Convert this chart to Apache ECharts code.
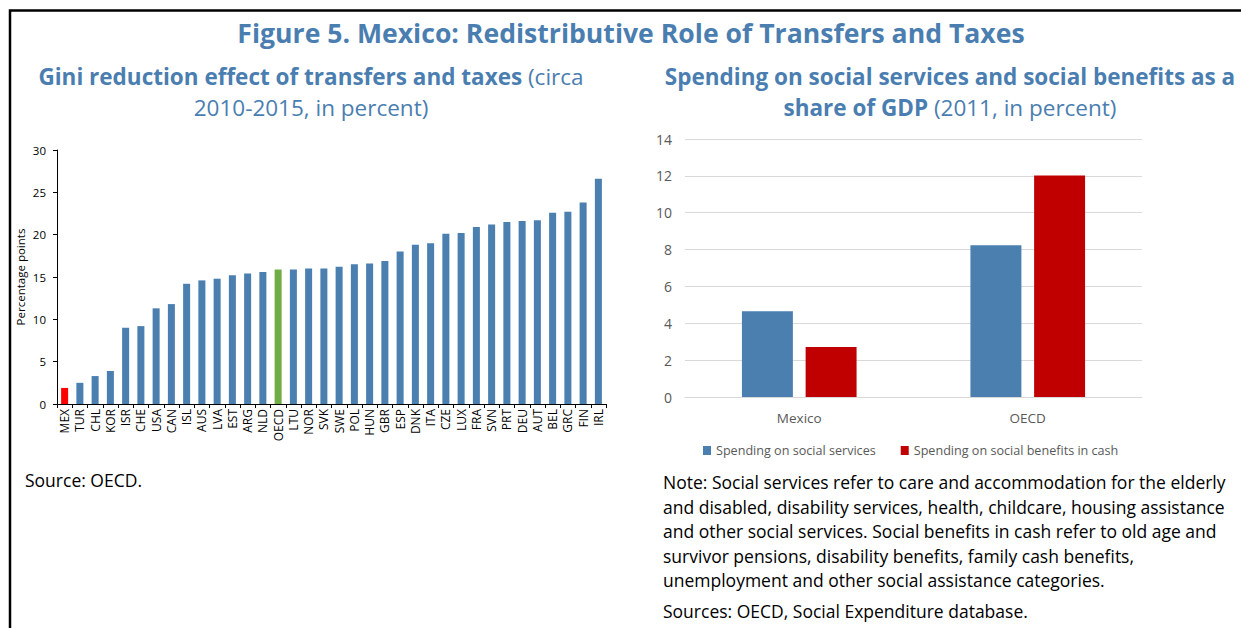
<!DOCTYPE html>
<html>
<head>
<meta charset="utf-8">
<script src="https://cdn.jsdelivr.net/npm/echarts@6/dist/echarts.min.js"></script>
<style>
  html, body { margin: 0; padding: 0; background: #fff; }
  #chart { width: 1241px; height: 628px; }
</style>
</head>
<body>
<div id="chart"></div>
<script>
// Left panel: Gini reduction effect of transfers and taxes (percentage points)
const countries = ['MEX','TUR','CHL','KOR','ISR','CHE','USA','CAN','ISL','AUS','LVA','EST','ARG','NLD','OECD','LTU','NOR','SVK','SWE','POL','HUN','GBR','ESP','DNK','ITA','CZE','LUX','FRA','SVN','PRT','DEU','AUT','BEL','GRC','FIN','IRL'];
const giniReduction = [1.9,2.5,3.3,3.9,9.0,9.2,11.3,11.8,14.2,14.6,14.8,15.2,15.4,15.6,15.9,15.9,16.0,16.0,16.2,16.5,16.6,16.9,18.0,18.8,19.0,20.1,20.2,20.9,21.2,21.5,21.6,21.7,22.6,22.7,23.8,26.6];
const giniTicks = [0,5,10,15,20,25,30];

// Right panel: social spending as a share of GDP, 2011
const regions = ['Mexico','OECD'];
const socialServices = [4.65,8.23];
const cashBenefits = [2.71,12.02];
const spendTicks = [0,2,4,6,8,10,12,14];

const FONT = '"Open Sans", "Noto Sans", sans-serif';
const BLUE = '#4a7fb0';
const TITLE = '#4a7eb0';

const highlight = { MEX: '#ff0000', OECD: '#70ad47' };

const chart = echarts.init(document.getElementById('chart'), null, { renderer: 'svg' });

const noteLines = [
  'Note: Social services refer to care and accommodation for the elderly',
  'and disabled, disability services, health, childcare, housing assistance',
  'and other social services. Social benefits in cash refer to old age and',
  'survivor pensions, disability benefits, family cash benefits,',
  'unemployment and other social assistance categories.'
];

const titleRich = {
  b: { fontFamily: FONT, fontWeight: 'bold', fontSize: 22.5, color: TITLE },
  n: { fontFamily: FONT, fontWeight: 'normal', fontSize: 22.5, color: TITLE }
};

chart.setOption({
  animation: false,
  textStyle: { fontFamily: FONT },
  title: [
    { text: 'Figure 5. Mexico: Redistributive Role of Transfers and Taxes', left: 626, top: 14, textAlign: 'center',
      textStyle: { fontFamily: FONT, fontWeight: 'bold', fontSize: 26.6, color: TITLE } },
    { text: '{b|Gini reduction effect of transfers and taxes}{n| (circa}', left: 306, top: 60, textAlign: 'center',
      textStyle: { rich: titleRich } },
    { text: '{n|2010-2015, in percent)}', left: 306, top: 91, textAlign: 'center', textStyle: { rich: titleRich } },
    { text: '{b|Spending on social services and social benefits as a}', left: 945, top: 60, textAlign: 'center',
      textStyle: { rich: titleRich } },
    { text: '{b|share of GDP}{n| (2011, in percent)}', left: 945, top: 91, textAlign: 'center', textStyle: { rich: titleRich } }
  ],
  graphic: [
    { type: 'polyline', shape: { points: [[10, 628], [10, 10.5], [1241, 10.5]] },
      style: { stroke: '#000', lineWidth: 2.5, fill: null } },
    { type: 'text', left: 25, top: 471,
      style: { text: 'Source: OECD.', font: '17.5px ' + FONT, fill: '#000' } },
    { type: 'text', left: 663, top: 470,
      style: { text: noteLines.join('\n'), font: '17.5px ' + FONT, lineHeight: 24.5, fill: '#000' } },
    { type: 'text', left: 663, top: 602,
      style: { text: 'Sources: OECD, Social Expenditure database.', font: '17.5px ' + FONT, fill: '#000' } }
  ],
  legend: {
    left: 698, top: 439, itemWidth: 8, itemHeight: 9, itemGap: 25, icon: 'rect',
    textStyle: { fontFamily: FONT, fontSize: 12.6, color: '#595959' },
    data: ['Spending on social services', 'Spending on social benefits in cash']
  },
  grid: [
    { left: 57, top: 150, width: 549, height: 254, containLabel: false },
    { left: 685, top: 139, width: 457, height: 258, containLabel: false }
  ],
  xAxis: [
    { type: 'category', gridIndex: 0, data: countries,
      axisLine: { lineStyle: { color: '#000', width: 1 } },
      axisTick: { show: true, length: 4, lineStyle: { color: '#000' } },
      axisLabel: { interval: 0, rotate: 90, fontSize: 12, color: '#000', margin: 5, fontFamily: FONT } },
    { type: 'category', gridIndex: 1, data: regions,
      axisLine: { lineStyle: { color: '#d9d9d9' } },
      axisTick: { show: false },
      axisLabel: { fontSize: 13.5, color: '#595959', margin: 14, fontFamily: FONT } }
  ],
  yAxis: [
    { type: 'value', gridIndex: 0, min: giniTicks[0], max: giniTicks[giniTicks.length - 1], interval: 5,
      name: 'Percentage points', nameLocation: 'middle', nameRotate: 90, nameGap: 31,
      nameTextStyle: { fontSize: 11.5, color: '#000', fontFamily: FONT },
      axisLine: { show: true, lineStyle: { color: '#000' } },
      axisTick: { show: true, length: 4, lineStyle: { color: '#000' } },
      splitLine: { show: false },
      axisLabel: { fontSize: 11.5, color: '#000', margin: 11, fontFamily: FONT } },
    { type: 'value', gridIndex: 1, min: spendTicks[0], max: spendTicks[spendTicks.length - 1], interval: 2,
      axisLine: { show: false }, axisTick: { show: false },
      splitLine: { lineStyle: { color: '#d9d9d9' } },
      axisLabel: { fontSize: 14, color: '#595959', margin: 13, fontFamily: FONT } }
  ],
  series: [
    { type: 'bar', xAxisIndex: 0, yAxisIndex: 0, barWidth: '46%',
      data: giniReduction.map((v, i) => ({
        value: v,
        itemStyle: { color: highlight[countries[i]] || BLUE }
      })) },
    { name: 'Spending on social services', type: 'bar', xAxisIndex: 1, yAxisIndex: 1,
      barWidth: '22.3%', barGap: '25%', itemStyle: { color: BLUE }, data: socialServices },
    { name: 'Spending on social benefits in cash', type: 'bar', xAxisIndex: 1, yAxisIndex: 1,
      barWidth: '22.3%', barGap: '25%', itemStyle: { color: '#c00000' }, data: cashBenefits }
  ]
});
</script>
</body>
</html>
